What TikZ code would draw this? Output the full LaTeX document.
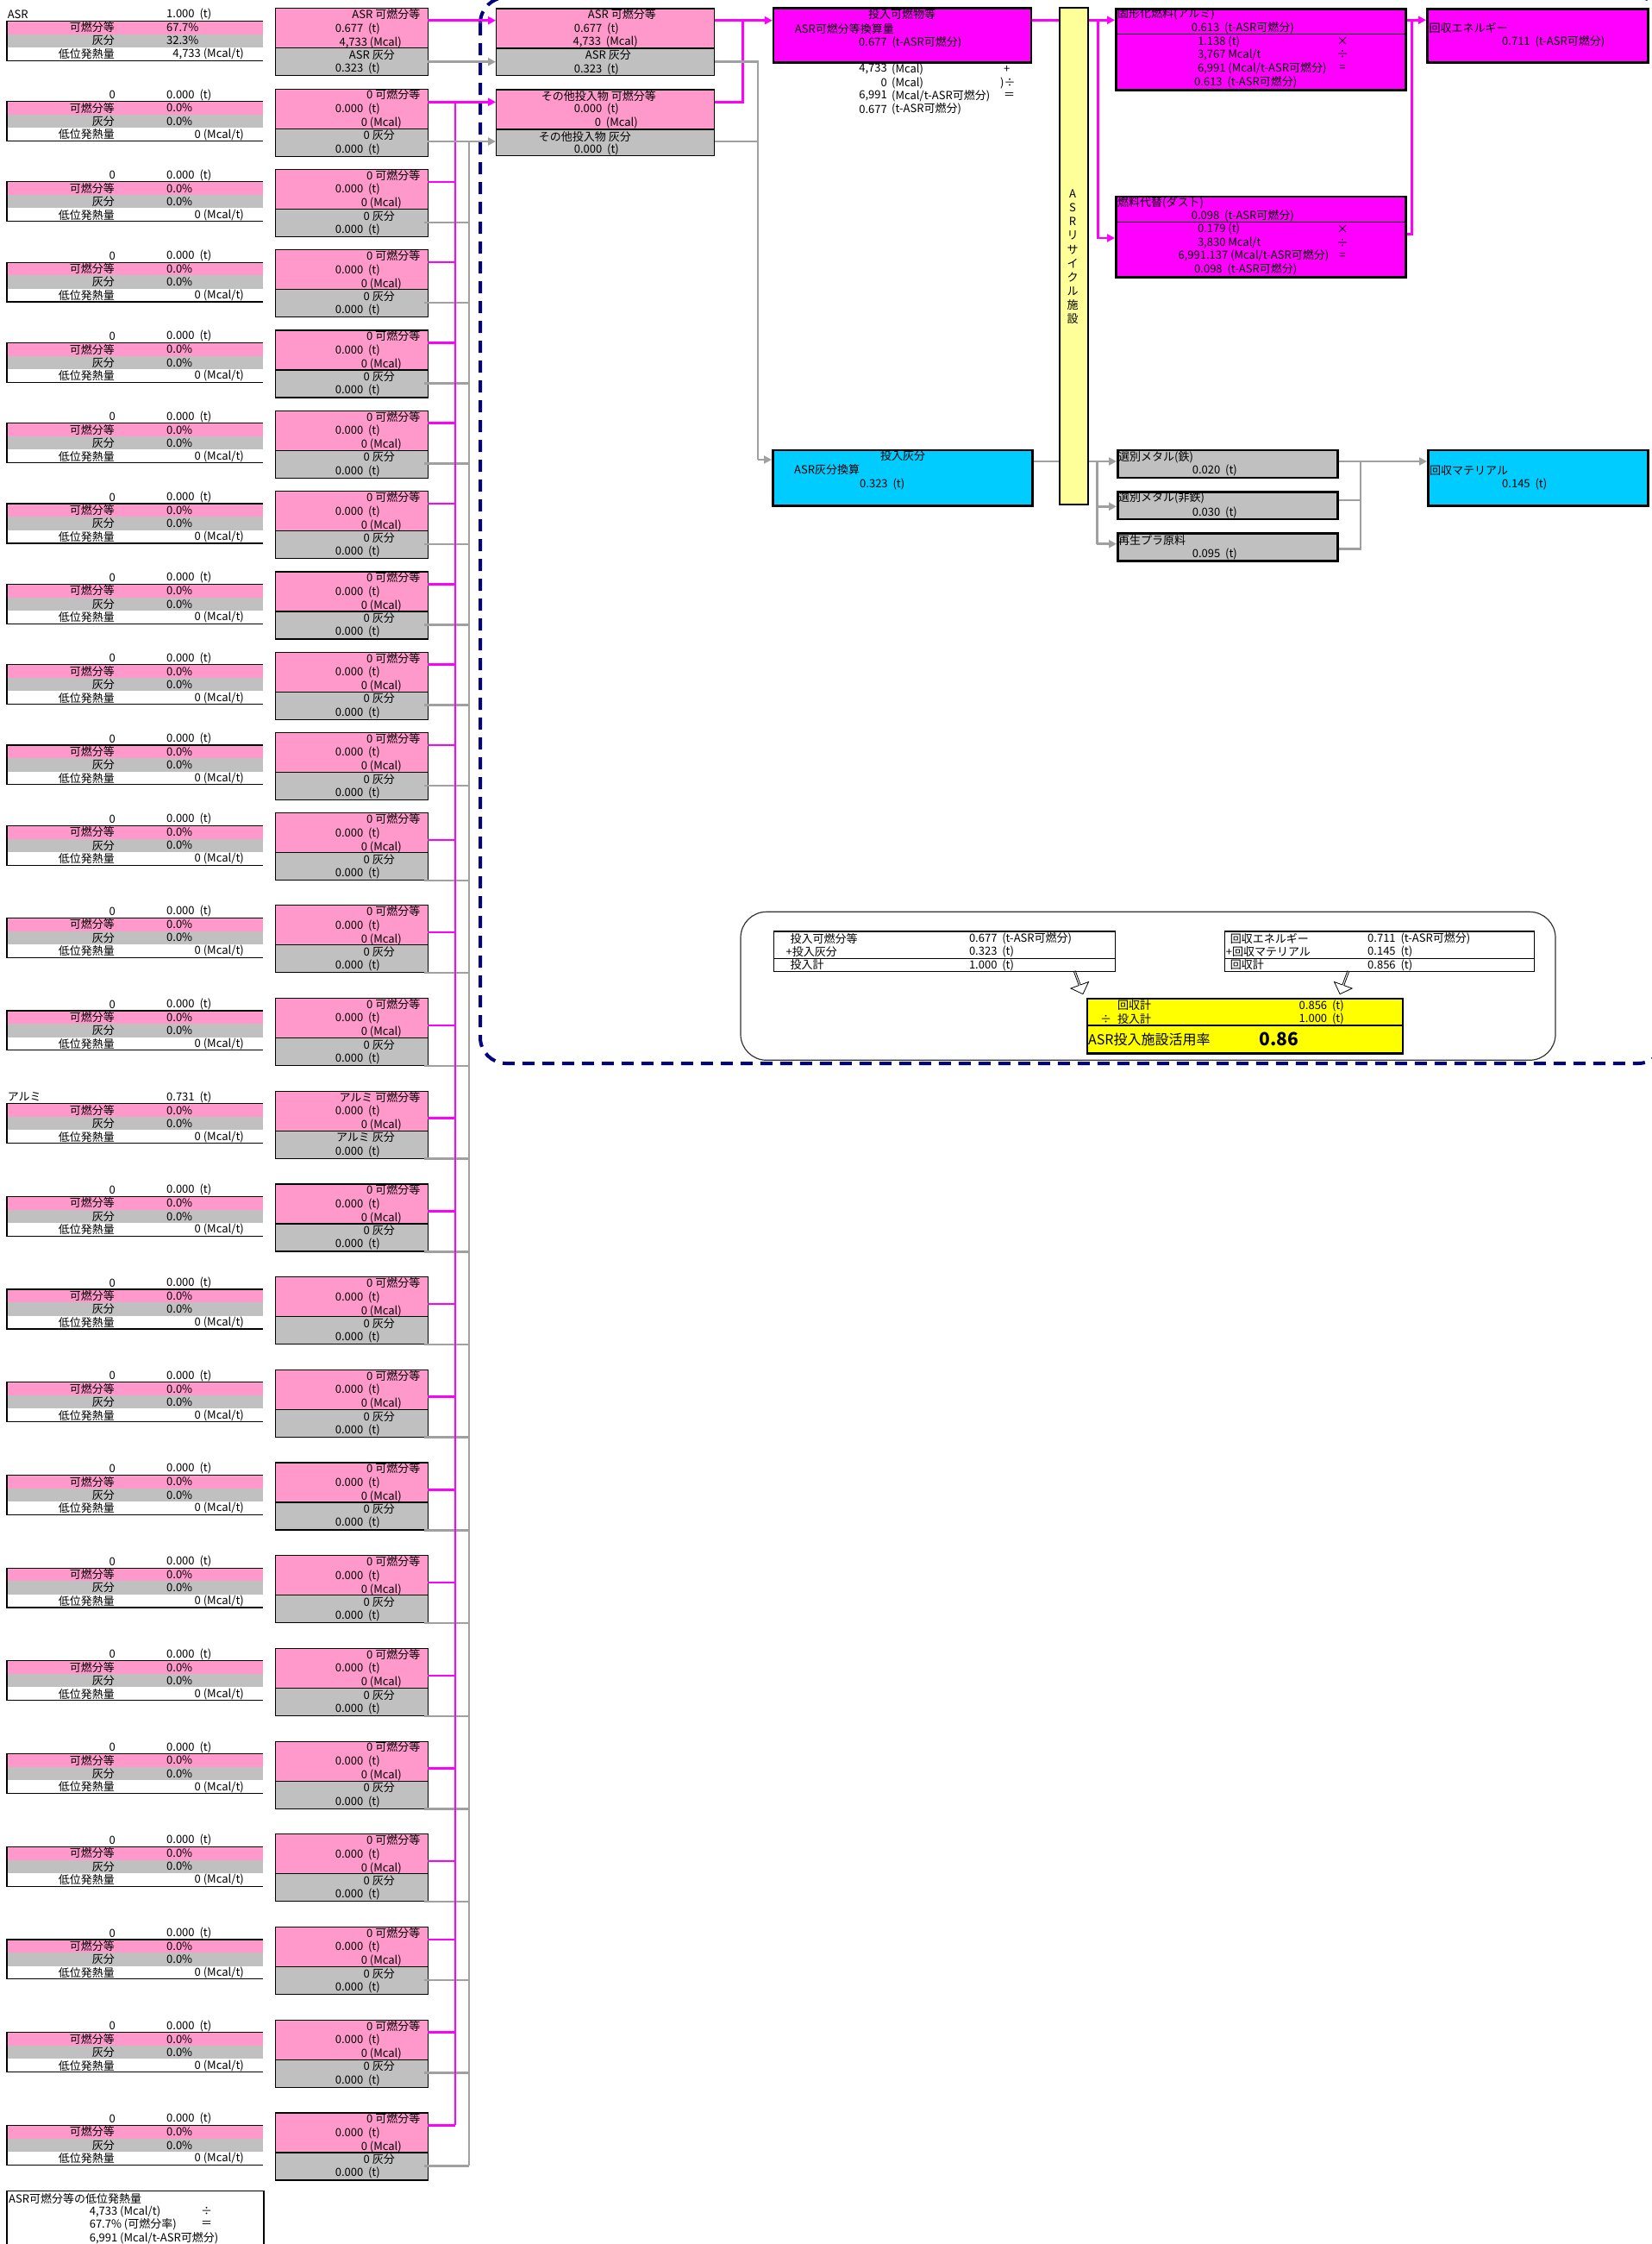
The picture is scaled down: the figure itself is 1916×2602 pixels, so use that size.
\documentclass[tikz,border=0pt]{standalone}
\usepackage{fontspec}
\setmainfont{Noto Sans CJK JP}
\usetikzlibrary{arrows.meta,shapes.arrows}

\definecolor{pinkfill}{HTML}{FF99CC}
\definecolor{grayfill}{HTML}{C0C0C0}
\definecolor{magline}{HTML}{FF00FF}
\definecolor{grayline}{HTML}{A0A0A0}
\definecolor{cyanfill}{HTML}{00CCFF}
\definecolor{barfill}{HTML}{FFFF99}
\definecolor{resfill}{HTML}{FFFF00}
\definecolor{navyline}{HTML}{000080}

\tikzset{
  every node/.style={inner sep=0pt, font=\fontsize{13}{15}\selectfont},
  lt/.style={anchor=west},
  rt/.style={anchor=east},
  cellbox/.style={draw=black, line width=1.2pt, anchor=north west},
  flowbox/.style={draw=black, line width=2.5pt, anchor=north west},
  magwire/.style={draw=magline, line width=2.5pt},
  graywire/.style={draw=grayline, line width=2.5pt},
}

% 左列：投入物の内訳表
\newcommand{\feedblock}[9]{%
  \fill[pinkfill] (8,#2+7.5) rectangle (305,#2+22.8);
  \fill[grayfill] (8,#2+22.8) rectangle (305,#2+38.1);
  \draw[line width=1.2pt] (305,#2+7.5) -- (8,#2+7.5) -- (8,#2+53.4) -- (305,#2+53.4);
  \node[#4] (fn#1) at (#3,#2) {#5};
  \node[lt] (fq#1) at (193,#2) {#6};
  \node[rt] at (133,#2+15.2) {可燃分等};
  \node[lt] at (193,#2+15.2) {#7};
  \node[rt] at (133,#2+30.5) {灰分};
  \node[lt] at (193,#2+30.5) {#8};
  \node[rt] at (133,#2+46) {低位発熱量};
  \node[rt] at (283,#2+46) {#9};
}

% 中列：可燃分等／灰分の箱
\newcommand{\mixbox}[6]{%
  \node[cellbox, fill=pinkfill, minimum width=177pt, minimum height=46pt] (mc#1) at (319,#2-7.5) {};
  \node[cellbox, fill=grayfill, minimum width=177pt, minimum height=32pt] (ma#1) at (319,#2+38.5) {};
  \node[rt] at (487.5,#2) {#3 可燃分等};
  \node[lt] at (388.6,#2+16.5) {#4};
  \node[rt] at (466,#2+32.5) {#5};
  \node[rt] at (458,#2+47) {#3 灰分};
  \node[lt] at (388.6,#2+63) {#6};
}

\begin{document}
\begin{tikzpicture}[x=1pt, y=-1pt, >={Triangle[length=9pt,width=9pt]}]
\useasboundingbox (0,0) rectangle (1916,2602);

% ---------- 左列・中列 ----------
\feedblock{1}{16.7}{8.6}{lt}{ASR}{1.000~~(t)}{67.7\%}{32.3\%}{4,733 (Mcal/t)}
\mixbox{1}{16.7}{ASR}{0.677~~(t)}{4,733 (Mcal)}{0.323~~(t)}
\feedblock{14}{1272.1}{8.6}{lt}{アルミ}{0.731~~(t)}{0.0\%}{0.0\%}{0 (Mcal/t)}
\mixbox{14}{1272.1}{アルミ}{0.000~~(t)}{0 (Mcal)}{0.000~~(t)}

\foreach \k/\T in {2/110.0, 3/203.3, 4/296.6, 5/389.9, 6/483.2, 7/576.5,
    8/669.8, 9/763.1, 10/856.4, 11/949.7, 12/1056.7, 13/1164.4,
    15/1379.8, 16/1487.5, 17/1595.2, 18/1702.9, 19/1810.6, 20/1918.3,
    21/2026.0, 22/2133.7, 23/2241.4, 24/2349.1, 25/2456.8}{
  \feedblock{\k}{\T}{134}{rt}{0}{0.000~~(t)}{0.0\%}{0.0\%}{0 (Mcal/t)}
  \mixbox{\k}{\T}{0}{0.000~~(t)}{0 (Mcal)}{0.000~~(t)}
}

% 下端の注記
\draw[line width=1.2pt] (8,2610) -- (8,2540.7) -- (306,2540.7) -- (306,2610);
\node[lt] (lhv) at (10,2550) {ASR可燃分等の低位発熱量};
\node[lt] at (103.6,2564) {4,733 (Mcal/t)};
\node[lt] at (233,2564) {÷};
\node[lt] at (103.6,2579.3) {67.7\% (可燃分率)};
\node[lt] at (233,2579.3) {＝};
\node[lt] at (103.6,2595) {6,991 (Mcal/t-ASR可燃分)};

% ---------- 中列から集約線 ----------
\foreach \T/\mo/\go in {203.3/15/62, 296.6/15/62, 389.9/15/62, 483.2/15/62,
    576.5/15/62, 669.8/15/62, 763.1/15/62, 856.4/15/62, 949.7/32/79,
    1056.7/32/79, 1164.4/32/79, 1272.1/32/79, 1379.8/32/79, 1487.5/32/79,
    1595.2/32/79, 1702.9/32/79, 1810.6/32/79, 1918.3/32/79, 2026.0/32/79,
    2133.7/32/79, 2241.4/15/62, 2349.1/15/62, 2456.8/15/62}{
  \draw[magwire] (496,\T-7.5+\mo) -- (528,\T-7.5+\mo);
  \draw[graywire] (492,\T-7.5+\go) -- (544,\T-7.5+\go);
}
\draw[magwire] (528,117.5) -- (528,2464.3);
\draw[graywire] (544,164.5) -- (544,2511.3);

% ---------- ASRリサイクル施設の範囲 ----------
\draw[navyline, line width=4pt, dash pattern=on 14pt off 9pt, rounded corners=30pt]
    (557,-3) rectangle (1930,1233);

% ---------- 投入物の集計 ----------
\node[cellbox, fill=pinkfill, minimum width=253pt, minimum height=46pt] (r1) at (575,9.3) {};
\node[cellbox, fill=grayfill, minimum width=253pt, minimum height=31.4pt] (r1a) at (575,55.3) {};
\node[rt] at (761,16.7) {ASR 可燃分等};
\node[rt] at (718,33.3) {0.677~~(t)};
\node[rt] at (740,48.3) {4,733~~(Mcal)};
\node[rt] at (732,63.3) {ASR 灰分};
\node[rt] at (718,80) {0.323~~(t)};

\node[cellbox, fill=pinkfill, minimum width=253pt, minimum height=46pt] (r2) at (575,103.3) {};
\node[cellbox, fill=grayfill, minimum width=253pt, minimum height=30.7pt] (r2a) at (575,149.3) {};
\node[rt] at (761,111.7) {その他投入物 可燃分等};
\node[rt] at (718,126.7) {0.000~~(t)};
\node[rt] at (740,142.7) {0~~(Mcal)};
\node[rt] at (732,158.3) {その他投入物 灰分};
\node[rt] at (718,173.3) {0.000~~(t)};

\draw[magwire, ->] (496,23.7) -- (r1.west |- 0,23.7);
\draw[graywire, ->] (496,71.7) -- (r1a.west |- 0,71.7);
\draw[magwire, ->] (496,118.3) -- (r2.west |- 0,118.3);
\draw[graywire, ->] (496,164) -- (r2a.west |- 0,164);

% ---------- 投入可燃物等 ----------
\node[flowbox, fill=magline, minimum width=299pt, minimum height=62.7pt] (p1) at (895.8,8.3) {};
\node at (1046,16.7) {投入可燃物等};
\node[lt] at (921.7,33.3) {ASR可燃分等換算量};
\node[lt] at (996,49.3) {0.677~~(t-ASR可燃分)};
\node[rt] at (1029,80) {4,733};
\node[lt] at (1034,80) {(Mcal)};
\node[lt] at (1164,80) {+};
\node[rt] at (1029,96) {0};
\node[lt] at (1034,96) {(Mcal)};
\node[lt] at (1160,96) {)÷};
\node[rt] at (1029,111) {6,991};
\node[lt] at (1034,111) {(Mcal/t-ASR可燃分)};
\node[lt] at (1164,111) {＝};
\node[rt] at (1029,126.7) {0.677};
\node[lt] at (1034,126.7) {(t-ASR可燃分)};

\draw[magwire, ->] (r1.east |- 0,23.7) -- (p1.west |- 0,23.7);
\draw[magwire] (r2.east |- 0,118.3) -| (861.4,23.7);

% ---------- 投入灰分 ----------
\node[flowbox, fill=cyanfill, minimum width=301pt, minimum height=64.3pt] (ash) at (895,520.7) {};
\node at (1047,529) {投入灰分};
\node[lt] at (921,545) {ASR灰分換算};
\node[lt] at (997,561.7) {0.323~~(t)};

\draw[graywire] (r1a.east |- 0,71.7) -- (879,71.7) -- (879,533);
\draw[graywire, ->] (879,533) -- (ash.west |- 0,533);
\draw[graywire] (r2a.east |- 0,164) -- (879,164);

% ---------- ASRリサイクル施設 ----------
\node[cellbox, line width=2pt, fill=barfill, minimum width=32.5pt, minimum height=576pt] (bar) at (1228,8.3) {};
\foreach \c [count=\i from 0] in {A,S,R,リ,サ,イ,ク,ル,施,設}
  \node at (1244,225+16.1*\i) {\c};

% ---------- 固形化燃料・燃料代替 ----------
\node[flowbox, fill=magline, minimum width=336pt, minimum height=94.3pt] (f1) at (1293,9) {};
\draw[line width=1.2pt] (1293,39.3) -- (1629,39.3);
\node[lt] at (1296,16.7) {固形化燃料(アルミ)};
\node[lt] at (1381.6,32.7) {0.613~~(t-ASR可燃分)};
\node[lt] at (1388.8,48.3) {1.138 (t)};
\node at (1557,48.3) {×};
\node[lt] at (1388.8,63.3) {3,767 Mcal/t};
\node at (1557,63.3) {÷};
\node[lt] at (1388.8,79.3) {6,991 (Mcal/t-ASR可燃分)};
\node at (1557,79.3) {=};
\node[lt] at (1385,95.7) {0.613~~(t-ASR可燃分)};

\node[flowbox, fill=magline, minimum width=336pt, minimum height=93.3pt] (f2) at (1293,226.7) {};
\draw[line width=1.2pt] (1293,257.3) -- (1629,257.3);
\node[lt] at (1296,235) {燃料代替(ダスト)};
\node[lt] at (1381.6,250.7) {0.098~~(t-ASR可燃分)};
\node[lt] at (1388.8,265.7) {0.179 (t)};
\node at (1557,265.7) {×};
\node[lt] at (1388.8,281.7) {3,830 Mcal/t};
\node at (1557,281.7) {÷};
\node[lt] at (1366.4,296.7) {6,991.137 (Mcal/t-ASR可燃分)};
\node at (1557,296.7) {=};
\node[lt] at (1385,312.3) {0.098~~(t-ASR可燃分)};

\draw[magwire] (p1.east |- 0,23.3) -- (bar.west |- 0,23.3);
\draw[magwire, ->] (bar.east |- 0,23.3) -- (f1.west |- 0,23.3);
\draw[magwire, ->] (1273.6,23.3) |- (f2.west |- 0,276);

% ---------- 回収エネルギー ----------
\node[flowbox, fill=magline, minimum width=256pt, minimum height=62pt] (en) at (1654,9) {};
\node[lt] at (1657.5,32.3) {回収エネルギー};
\node[lt] at (1742,48.3) {0.711~~(t-ASR可燃分)};
\draw[magwire, ->] (f1.east |- 0,23.3) -- (en.west |- 0,23.3);
\draw[magwire] (f2.east |- 0,271.7) -| (1637.4,23.3);

% ---------- 選別メタル・再生プラ原料 ----------
\node[flowbox, fill=grayfill, minimum width=255pt, minimum height=32pt] (m1) at (1295,520.7) {};
\node[lt] at (1297,530) {選別メタル(鉄)};
\node[lt] at (1382.6,545) {0.020~~(t)};
\node[flowbox, fill=grayfill, minimum width=255pt, minimum height=31.7pt] (m2) at (1295,569) {};
\node[lt] at (1297,577.3) {選別メタル(非鉄)};
\node[lt] at (1382.6,594.3) {0.030~~(t)};
\node[flowbox, fill=grayfill, minimum width=255pt, minimum height=31.7pt] (m3) at (1295,617.3) {};
\node[lt] at (1297,626.7) {再生プラ原料};
\node[lt] at (1382.6,642.7) {0.095~~(t)};

\draw[graywire] (ash.east |- 0,535) -- (bar.west |- 0,535);
\draw[graywire, ->] (bar.east |- 0,535) -- (m1.west |- 0,535);
\draw[graywire] (1272.4,535) -- (1272.4,630.7);
\draw[graywire, ->] (1272.4,587.3) -- (m2.west |- 0,587.3);
\draw[graywire, ->] (1272.4,630.7) -- (m3.west |- 0,630.7);

% ---------- 回収マテリアル ----------
\node[flowbox, fill=cyanfill, minimum width=255pt, minimum height=64.3pt] (mat) at (1655,520.7) {};
\node[lt] at (1658,545.7) {回収マテリアル};
\node[lt] at (1742,561.7) {0.145~~(t)};
\draw[graywire, ->] (m1.east |- 0,535) -- (mat.west |- 0,535);
\draw[graywire] (m2.east |- 0,580) -| (1578,535);
\draw[graywire] (m3.east |- 0,636.7) -| (1578,580);

% ---------- 施設活用率の計算 ----------
\draw[line width=1.2pt, draw=black!80, rounded corners=30pt] (859,1057.3) rectangle (1804,1229.3);

\node[cellbox, minimum width=396pt, minimum height=46.7pt] (intab) at (897,1079.3) {};
\draw[line width=1.2pt] (897,1111.7) -- (1293,1111.7);
\node[lt] at (916.5,1088.3) {投入可燃分等};
\node[lt] at (1123.8,1088.3) {0.677~~(t-ASR可燃分)};
\node[lt] at (911.4,1103.3) {+投入灰分};
\node[lt] at (1123.8,1103.3) {0.323~~(t)};
\node[lt] at (916.5,1119) {投入計};
\node[lt] at (1123.8,1119) {1.000~~(t)};

\node[cellbox, minimum width=359pt, minimum height=46.7pt] (outtab) at (1420,1079.3) {};
\draw[line width=1.2pt] (1420,1111.7) -- (1779,1111.7);
\node[lt] at (1426.7,1088.3) {回収エネルギー};
\node[lt] at (1586,1088.3) {0.711~~(t-ASR可燃分)};
\node[lt] at (1421.6,1103.3) {+回収マテリアル};
\node[lt] at (1586,1103.3) {0.145~~(t)};
\node[lt] at (1426.7,1119) {回収計};
\node[lt] at (1586,1119) {0.856~~(t)};

\node[single arrow, draw, fill=white, line width=0.8pt, minimum height=28pt,
      minimum width=22pt, single arrow head extend=4pt, rotate=-70] (ha1) at (1251,1139) {};
\node[single arrow, draw, fill=white, line width=0.8pt, minimum height=28pt,
      minimum width=22pt, single arrow head extend=4pt, rotate=-110] (ha2) at (1559,1139) {};

\node[flowbox, fill=resfill, minimum width=366pt, minimum height=63.3pt] (rate) at (1259.6,1156.7) {};
\draw[line width=1.5pt] (1259.6,1189) -- (1625.7,1189);
\node[lt] at (1296,1166) {回収計};
\node[lt] at (1506.5,1166) {0.856~~(t)};
\node[lt] at (1276,1181.7) {÷};
\node[lt] at (1296,1181.7) {投入計};
\node[lt] at (1506.5,1181.7) {1.000~~(t)};
\node[lt, font=\fontsize{16}{18}\selectfont] at (1262,1205) {ASR投入施設活用率};
\node[lt, font=\fontsize{21}{24}\selectfont\bfseries] at (1460,1205) {0.86};

\end{tikzpicture}
\end{document}
